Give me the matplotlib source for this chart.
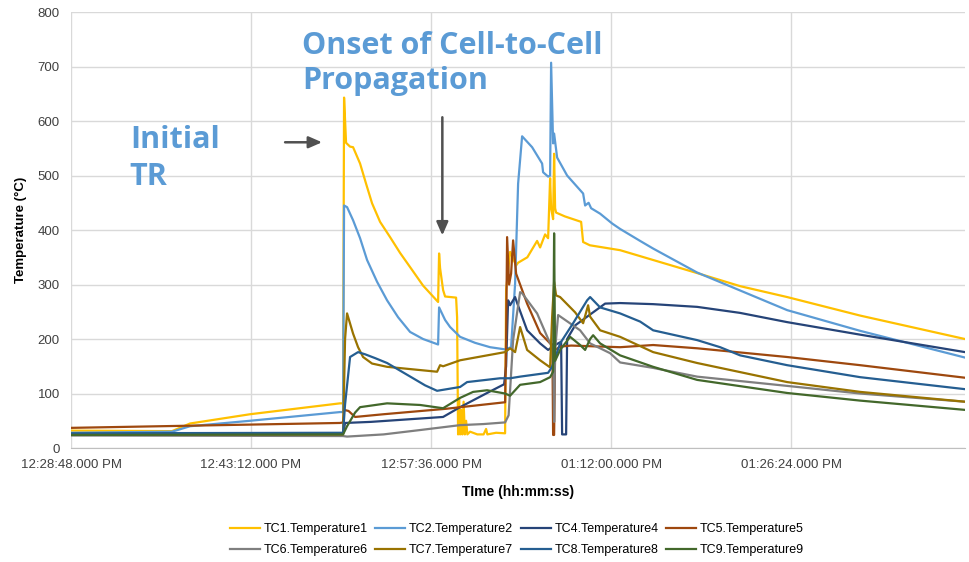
import matplotlib.pyplot as plt

# time in minutes after 12:28:48 PM, temperature in deg C
tc1_t = [0, 8.08, 9.52, 14.32, 21.52, 21.76, 21.84, 22.0, 22.32, 22.56, 23.12, 23.6, 24.08, 24.72,
         25.52, 26.32, 27.12, 28.16, 29.36, 29.44, 29.52, 29.76, 29.92, 30.8, 30.88, 30.96, 31.04,
         31.12, 31.2, 31.3, 31.4, 31.5, 31.6, 31.7, 31.92, 32.5, 33.0, 33.2, 33.3, 34.0, 34.72, 34.8,
         35.12, 35.6, 35.76, 36.5, 37.28, 37.52, 37.92, 38.16, 38.32, 38.4, 38.56, 38.64, 38.72, 38.8,
         39.5, 40.8, 40.96, 41.5, 43.92, 46.56, 50.08, 53.52, 57.28, 63.12, 71.5]
tc1_v = [32, 31, 45, 62, 82, 82, 643, 560, 553, 552, 522, 485, 449, 415,
         387, 358, 332, 298, 268, 357, 330, 290, 278, 276, 240, 25, 90,
         25, 70, 25, 85, 25, 50, 25, 30, 25, 25, 35, 25, 28, 27, 290,
         360, 335, 340, 350, 380, 368, 392, 385, 495, 440, 420, 540, 440, 432,
         425, 415, 378, 372, 363, 345, 321, 297, 277, 243, 200]

tc2_t = [0, 8.08, 9.52, 14.32, 21.52, 21.76, 21.84, 22.08, 22.56, 23.12, 23.68, 24.48, 25.28, 26.16,
         27.12, 28.16, 29.36, 29.44, 29.92, 30.32, 31.12, 32.32, 33.52, 34.72, 35.2, 35.52, 35.76,
         36.08, 36.88, 37.68, 37.76, 38.16, 38.32, 38.4, 38.56, 38.64, 38.88, 39.68, 40.96, 41.12,
         41.4, 41.6, 42.32, 43.28, 43.92, 45.52, 46.56, 50.08, 57.28, 63.12, 71.5]
tc2_v = [28, 30, 40, 50, 66, 66, 445, 442, 418, 385, 345, 305, 271, 240,
         213, 200, 190, 258, 235, 222, 204, 193, 185, 181, 185, 302, 485,
         572, 552, 522, 506, 498, 500, 707, 559, 577, 533, 500, 467, 445,
         450, 440, 430, 412, 402, 380, 366, 322, 253, 215, 166]

tc4_t = [0, 21.76, 21.92, 24.0, 29.76, 31.12, 33.28, 34.64, 34.8, 34.96, 35.12, 35.52, 35.7, 36.48,
         37.52, 38.16, 38.64, 39.2, 39.28, 39.6, 39.68, 40.32, 41.52, 42.72, 43.92, 46.56, 50.08,
         53.5, 57.28, 63.12, 71.5]
tc4_v = [25, 26, 46, 48, 57, 75, 101, 117, 150, 271, 262, 277, 265, 216,
         192, 180, 188, 195, 25, 25, 200, 225, 245, 265, 266, 264, 259,
         248, 231, 208, 176]

tc5_t = [0, 21.52, 21.76, 21.84, 22.2, 22.72, 25, 30, 34.72, 34.8, 34.88, 35.04, 35.2, 35.36, 35.6,
         36.48, 37.52, 38.32, 38.5, 38.56, 38.64, 38.72, 39.12, 40, 43.92, 46.56, 50.08, 57.28,
         63.12, 71.5]
tc5_v = [37, 46, 47, 70, 68, 57, 62, 72, 84, 200, 387, 300, 320, 381, 320,
         265, 211, 192, 190, 24, 24, 180, 186, 188, 185, 189, 183, 167,
         152, 129]

tc6_t = [0, 21.76, 22.08, 25, 27.92, 31.12, 33.0, 34.72, 35.0, 35.36, 35.92, 36.08, 37.28, 38.32,
         38.56, 38.64, 38.72, 38.96, 40.72, 41.52, 43.12, 43.92, 46.56, 50.08, 57.28, 63.12, 71.5]
tc6_v = [23, 22, 21, 25, 33, 42, 44, 47, 60, 198, 286, 284, 247, 192,
         185, 48, 180, 244, 216, 192, 174, 157, 147, 131, 114, 100, 85]

tc7_t = [0, 21.76, 21.92, 22.08, 22.56, 22.96, 23.36, 24.08, 25.28, 29.28, 29.52, 29.76, 31.12,
         34.72, 35.12, 35.52, 35.92, 36.48, 37.52, 38.32, 38.48, 38.64, 38.8, 39.12, 40.32, 40.96,
         41.36, 41.52, 42.32, 43.92, 46.56, 50.08, 57.28, 63.12, 71.5]
tc7_v = [25, 25, 200, 247, 210, 185, 167, 155, 149, 140, 152, 150, 161,
         176, 183, 176, 222, 180, 161, 148, 240, 305, 280, 277, 249, 229,
         262, 241, 216, 204, 176, 156, 121, 103, 85]

tc8_t = [0, 21.76, 21.92, 22.32, 22.96, 23.52, 24.32, 25.28, 26.32, 27.36, 28.32, 29.28, 31.12,
         31.68, 34.32, 35.12, 35.92, 38.16, 38.48, 39.12, 40.16, 41.28, 41.52, 42.32, 43.92, 45.52,
         46.56, 50.08, 51.92, 53.52, 57.28, 63.12, 71.5]
tc8_v = [27, 28, 80, 167, 176, 172, 165, 156, 142, 128, 115, 105, 112,
         121, 128, 128, 131, 138, 149, 192, 229, 271, 277, 258, 247, 232,
         216, 198, 185, 170, 152, 130, 108]

tc9_t = [0, 21.76, 22.08, 22.72, 23.12, 25.28, 27.92, 29.76, 31.12, 32.16, 33.28, 34.72, 35.12,
         35.92, 37.52, 38.32, 38.56, 38.64, 38.72, 39.12, 39.92, 40.72, 41.12, 41.52, 41.76, 42.32,
         43.92, 46.56, 50.08, 57.28, 63.12, 71.5]
tc9_v = [24, 25, 40, 65, 75, 82, 79, 73, 92, 103, 106, 100, 96,
         116, 121, 130, 140, 394, 160, 180, 204, 189, 180, 200, 207, 192,
         170, 149, 125, 101, 87, 70]

names = ["TC1.Temperature1", "TC2.Temperature2", "TC4.Temperature4", "TC5.Temperature5",
         "TC6.Temperature6", "TC7.Temperature7", "TC8.Temperature8", "TC9.Temperature9"]
colors = ["#FFC000", "#5B9BD5", "#264478", "#9E480E", "#7F7F7F", "#997300", "#255E91", "#43682B"]

tick_pos = [0, 14.4, 28.8, 43.2, 57.6]
tick_labels = ["12:28:48.000 PM", "12:43:12.000 PM", "12:57:36.000 PM", "01:12:00.000 PM", "01:26:24.000 PM"]

plt.rcParams['font.family'] = ['Liberation Sans', 'DejaVu Sans']

fig = plt.figure(figsize=(9.7, 5.62), dpi=100)
ax = fig.add_axes([0.0732, 0.2028, 0.9216, 0.7758])

series = [(tc1_t, tc1_v), (tc2_t, tc2_v), (tc4_t, tc4_v), (tc5_t, tc5_v),
          (tc6_t, tc6_v), (tc7_t, tc7_v), (tc8_t, tc8_v), (tc9_t, tc9_v)]
lines = []
for (t, v), name, c in zip(series, names, colors):
    ln, = ax.plot(t, v, color=c, lw=1.6, label=name, solid_joinstyle='round')
    lines.append(ln)

ax.set_xlim(0, 71.5)
ax.set_ylim(0, 800)
ax.set_yticks(range(0, 801, 100))
ax.set_xticks(tick_pos)
ax.set_xticklabels(tick_labels)
ax.tick_params(length=0, labelsize=9.5, colors='#404040', pad=8)
ax.grid(True, color='#D9D9D9', lw=1)
ax.set_axisbelow(True)
for s in ['top', 'right', 'left']:
    ax.spines[s].set_visible(False)
ax.spines['bottom'].set_color('#BFBFBF')

ax.set_xlabel("TIme (hh:mm:ss)", fontsize=10, fontweight='bold', labelpad=10)
ax.set_ylabel("Temperature (°C)", fontsize=9.5, fontweight='bold', labelpad=8)

# annotations
ax.text(4.7, 592, "Initial\nTR", fontsize=22, fontweight='bold', color='#5B9BD5',
        family='Open Sans', va='top', ha='left', linespacing=1.3)
ax.text(18.5, 765, "Onset of Cell-to-Cell\nPropagation", fontsize=22, fontweight='bold',
        color='#5B9BD5', family='Open Sans', va='top', ha='left', linespacing=1.22)
ax.annotate("", xy=(20.3, 561), xytext=(16.9, 561),
            arrowprops=dict(arrowstyle='-|>,head_length=0.8,head_width=0.35', color='#505050', lw=1.8))
ax.annotate("", xy=(29.7, 385), xytext=(29.7, 612),
            arrowprops=dict(arrowstyle='-|>,head_length=0.8,head_width=0.35', color='#505050', lw=1.8))

order = [0, 4, 1, 5, 2, 6, 3, 7]
fig.legend([lines[i] for i in order], [names[i] for i in order], loc='center',
           bbox_to_anchor=(0.533, 0.04), ncol=4, frameon=False, fontsize=9,
           handlelength=2.4, columnspacing=0.6, handletextpad=0.3, labelspacing=0.7)

fig.savefig("out.png", dpi=100)
